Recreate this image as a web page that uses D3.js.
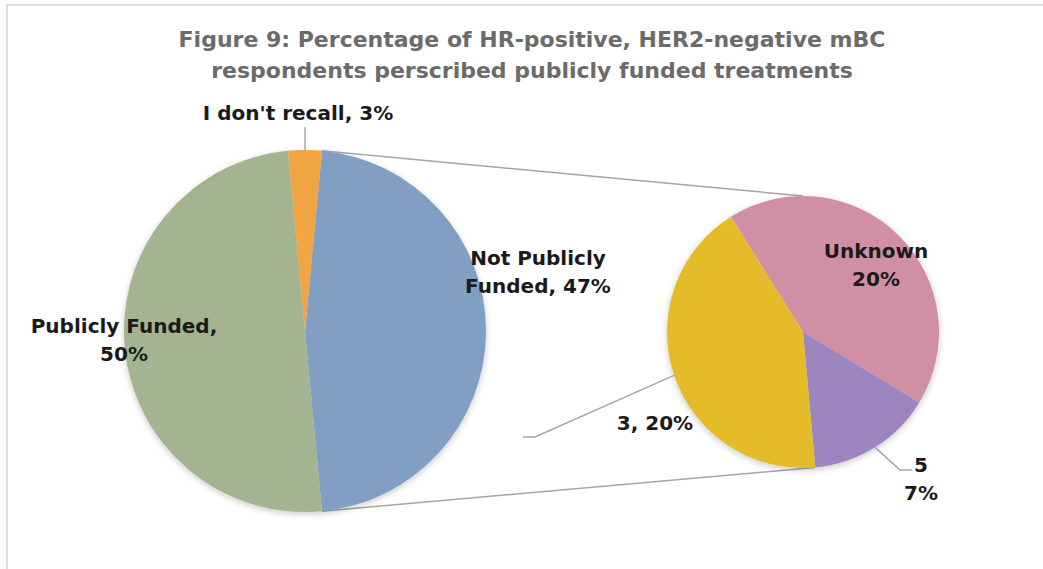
<!DOCTYPE html>
<html>
<head>
<meta charset="utf-8">
<script src="https://cdn.jsdelivr.net/npm/d3@7"></script>
<style>
  html, body { margin: 0; padding: 0; background: #fff; }
  svg { display: block; }
  text { font-family: "DejaVu Sans", "Open Sans", sans-serif; font-weight: 700; }
</style>
</head>
<body>
<svg id="chart" width="1043" height="569"></svg>
<script>
// Main pie: overall split of respondents
const mainLabels = ["Not Publicly Funded", "Publicly Funded", "I don't recall"];
const mainValues = [47, 50, 3];
const mainColors = ["#809fc3", "#a4b491", "#f1a542"];

// Secondary pie: breakdown of the "Not Publicly Funded" share
const subLabels = ["Unknown", "5", "3"];
const subValues = [20, 7, 20];
const subColors = ["#d08fa4", "#9d86bf", "#e4bc2c"];

const titleLines = [
  "Figure 9: Percentage of HR-positive, HER2-negative mBC",
  "respondents perscribed publicly funded treatments"
];

const W = 1043, H = 569;
const svg = d3.select("#chart");

// frame
svg.append("path")
  .attr("d", `M7,${H} V5 H${W}`)
  .attr("fill", "none")
  .attr("stroke", "#dcdcdc")
  .attr("stroke-width", 2);

// soft shadow for the pies
const defs = svg.append("defs");
const f = defs.append("filter").attr("id", "shadow")
  .attr("x", "-10%").attr("y", "-10%").attr("width", "120%").attr("height", "125%");
f.append("feDropShadow").attr("dx", 0).attr("dy", 2).attr("stdDeviation", 3)
  .attr("flood-color", "#000").attr("flood-opacity", 0.22);

// title
svg.append("g").selectAll("text").data(titleLines).join("text")
  .attr("x", 532)
  .attr("y", (d, i) => 47 + i * 31)
  .attr("text-anchor", "middle")
  .attr("fill", "#6b6b6b")
  .attr("font-size", 22)
  .text(d => d);

const deg = Math.PI / 180;
const main = { cx: 305, cy: 331, r: 181 };
const sub = { cx: 803, cy: 332, r: 136 };

// the split slice (first) is centred on the right-hand side, facing the secondary pie
const total = d3.sum(mainValues);
const mainStart = Math.PI / 2 - (mainValues[0] / total) * Math.PI;
const mainArcs = d3.pie().sort(null)
  .startAngle(mainStart).endAngle(mainStart + 2 * Math.PI)(mainValues);

const subStart = -32 * deg;
const subArcs = d3.pie().sort(null)
  .startAngle(subStart).endAngle(subStart + 2 * Math.PI)(subValues);

const pt = (c, a, r) => [c.cx + (r ?? c.r) * Math.sin(a), c.cy - (r ?? c.r) * Math.cos(a)];

const line = d3.line();
const lineColor = "#a6a6a6";

// connector lines between the split slice and the secondary pie
const split = mainArcs[0];
const subTopAngle = 0, subBottomAngle = 175 * deg;
svg.append("path")
  .attr("d", line([pt(main, split.startAngle), pt(sub, subTopAngle)]))
  .attr("stroke", lineColor).attr("stroke-width", 1.5).attr("fill", "none");
svg.append("path")
  .attr("d", line([pt(main, split.endAngle), pt(sub, subBottomAngle)]))
  .attr("stroke", lineColor).attr("stroke-width", 1.5).attr("fill", "none");

const arcMain = d3.arc().innerRadius(0).outerRadius(main.r);
const arcSub = d3.arc().innerRadius(0).outerRadius(sub.r);

svg.append("g").attr("transform", `translate(${main.cx},${main.cy})`)
  .attr("filter", "url(#shadow)")
  .selectAll("path").data(mainArcs).join("path")
  .attr("d", arcMain)
  .attr("fill", (d, i) => mainColors[i]);

svg.append("g").attr("transform", `translate(${sub.cx},${sub.cy})`)
  .attr("filter", "url(#shadow)")
  .selectAll("path").data(subArcs).join("path")
  .attr("d", arcSub)
  .attr("fill", (d, i) => subColors[i]);

// data labels
const mid = d => (d.startAngle + d.endAngle) / 2;
const mainLabelText = mainLabels.map((l, i) => `${l}, ${mainValues[i]}%`);
const labels = [
  { lines: ["Not Publicly", "Funded, " + mainValues[0] + "%"], x: 538, y: 265 },
  { lines: ["Publicly Funded,", mainValues[1] + "%"], x: 124, y: 333 },
  { lines: [mainLabelText[2]], x: 298, y: 120 },
  { lines: [subLabels[0], subValues[0] + "%"], x: 876, y: 258 },
  { lines: [subLabels[1], subValues[1] + "%"], x: 921, y: 472 },
  { lines: [`${subLabels[2]}, ${subValues[2]}%`], x: 655, y: 430 }
];

// leader lines
const orange = mainArcs[2];
const oTop = pt(main, mid(orange));
svg.append("path").attr("d", line([oTop, [oTop[0], 127]]))
  .attr("stroke", lineColor).attr("stroke-width", 1.5).attr("fill", "none");

const purple = subArcs[1];
const pEdge = pt(sub, mid(purple));
svg.append("path").attr("d", line([pEdge, [900, 470], [912, 470]]))
  .attr("stroke", lineColor).attr("stroke-width", 1.5).attr("fill", "none");

const yellow = subArcs[2];
const yEdge = pt(sub, mid(yellow));
svg.append("path").attr("d", line([yEdge, [535, 437], [523, 437]]))
  .attr("stroke", lineColor).attr("stroke-width", 1.5).attr("fill", "none");

const lg = svg.append("g");
labels.forEach(L => {
  lg.append("text")
    .attr("x", L.x).attr("y", L.y)
    .attr("text-anchor", "middle")
    .attr("fill", "#1a1a1a")
    .attr("font-size", 20)
    .selectAll("tspan").data(L.lines).join("tspan")
    .attr("x", L.x)
    .attr("dy", (d, i) => i === 0 ? 0 : 28)
    .text(d => d);
});
</script>
</body>
</html>
